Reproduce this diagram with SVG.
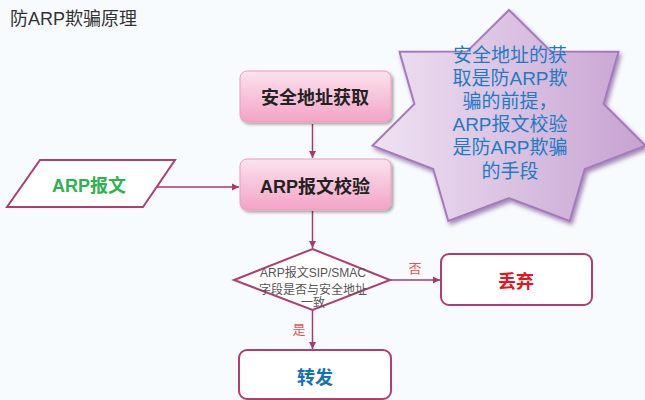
<svg xmlns="http://www.w3.org/2000/svg" width="645" height="400" viewBox="0 0 645 400">
<defs>
<linearGradient id="pink" x1="0" y1="0" x2="0" y2="1">
<stop offset="0" stop-color="#fbe3ee"/>
<stop offset="1" stop-color="#f3a3c6"/>
</linearGradient>
<linearGradient id="lav" x1="0" y1="0" x2="1" y2="0">
<stop offset="0" stop-color="#efe2f2"/>
<stop offset="1" stop-color="#c7a2d2"/>
</linearGradient>
<filter id="sh" x="-10%" y="-10%" width="130%" height="130%">
<feGaussianBlur in="SourceAlpha" stdDeviation="1.5"/>
<feOffset dx="1.5" dy="2" result="b"/>
<feComponentTransfer><feFuncA type="linear" slope="0.35"/></feComponentTransfer>
<feMerge><feMergeNode/><feMergeNode in="SourceGraphic"/></feMerge>
</filter>
<filter id="ssh" x="-10%" y="-10%" width="130%" height="130%">
<feGaussianBlur in="SourceAlpha" stdDeviation="2"/>
<feOffset dx="2" dy="3" result="b"/>
<feFlood flood-color="#6a3c8a" flood-opacity="0.6"/>
<feComposite in2="b" operator="in"/>
<feMerge><feMergeNode/><feMergeNode in="SourceGraphic"/></feMerge>
</filter>
<marker id="arr" viewBox="0 0 10 10" refX="10" refY="5" markerWidth="5" markerHeight="5" orient="auto">
<path d="M0,0 L10,5 L0,10 Z" fill="#a93a6c"/>
</marker>
</defs>
<style>
.cjk{font-family:"Liberation Sans","Noto Sans CJK SC",sans-serif}
.pbox{fill:url(#pink);stroke:#ec9cc0;stroke-width:1}
.wbox{fill:#ffffff;stroke:#ad3f72;stroke-width:2}
.lbl{font-size:18px;font-weight:bold;text-anchor:middle}
.conn{stroke:#a93a6c;stroke-width:1.5;fill:none;marker-end:url(#arr)}
.star{font-size:19px;fill:#1f7bc4;text-anchor:middle}
.dt{font-size:12px;fill:#555555;text-anchor:middle}
.yn{font-size:13px;fill:#e8505a;text-anchor:middle}
</style>
<rect width="645" height="400" fill="#f8fbfd"/>
<text x="10" y="25" class="cjk" font-size="18" fill="#333333">防ARP欺骗原理</text>

<g id="connectors">
<line class="conn" x1="312.5" y1="124" x2="312.5" y2="158"/>
<line class="conn" x1="157" y1="187" x2="239" y2="187"/>
<line class="conn" x1="312.5" y1="211" x2="312.5" y2="248"/>
<line class="conn" x1="390" y1="280" x2="440" y2="280"/>
<line class="conn" x1="312.5" y1="310" x2="312.5" y2="349"/>
<text x="415" y="273" class="cjk yn">否</text>
<text x="299" y="334" class="cjk yn">是</text>
</g>

<g id="star">
<path filter="url(#ssh)" d="M509,10 L551.1,51.6 L618.5,51.8 L603.6,103.9 L645.5,145.7 L584.8,169 L569.7,221 L509,198 L448.3,221 L433.2,169 L372.5,145.7 L414.4,103.9 L399.5,51.8 L466.9,51.6 Z" fill="url(#lav)" stroke="#a57abb" stroke-width="2"/>
<text class="cjk star" x="510" y="62">安全地址的获</text>
<text class="cjk star" x="510" y="85">取是防ARP欺</text>
<text class="cjk star" x="510" y="108">骗的前提，</text>
<text class="cjk star" x="510" y="131">ARP报文校验</text>
<text class="cjk star" x="510" y="154">是防ARP欺骗</text>
<text class="cjk star" x="510" y="178">的手段</text>
</g>

<g id="n-acquire">
<rect class="pbox" filter="url(#sh)" x="240" y="71" width="151" height="51" rx="7"/>
<text class="cjk lbl" x="315" y="104" fill="#222222">安全地址获取</text>
</g>

<g id="n-check">
<rect class="pbox" filter="url(#sh)" x="240" y="159" width="151" height="51" rx="7"/>
<text class="cjk lbl" x="315" y="193" fill="#222222">ARP报文校验</text>
</g>

<g id="n-arp">
<path d="M40,160 L175,160 L143,207 L7,207 Z" fill="#ffffff" stroke="#ad3f72" stroke-width="2"/>
<text class="cjk lbl" x="89" y="192" fill="#2db350">ARP报文</text>
</g>

<g id="n-decide">
<path d="M312.5,249 L390,280 L312.5,310 L234,280 Z" fill="#ffffff" stroke="#ad3f72" stroke-width="2"/>
<text class="cjk dt" x="313" y="277">ARP报文SIP/SMAC</text>
<text class="cjk dt" x="313" y="294">字段是否与安全地址</text>
<text class="cjk dt" x="313" y="307">一致</text>
</g>

<g id="n-drop">
<rect class="wbox" x="441" y="254" width="151" height="51" rx="8"/>
<text class="cjk lbl" x="516" y="288" fill="#e8141c">丢弃</text>
</g>

<g id="n-forward">
<rect class="wbox" x="239" y="350" width="152" height="49" rx="8"/>
<text class="cjk lbl" x="315" y="384" fill="#1372b8">转发</text>
</g>
</svg>
